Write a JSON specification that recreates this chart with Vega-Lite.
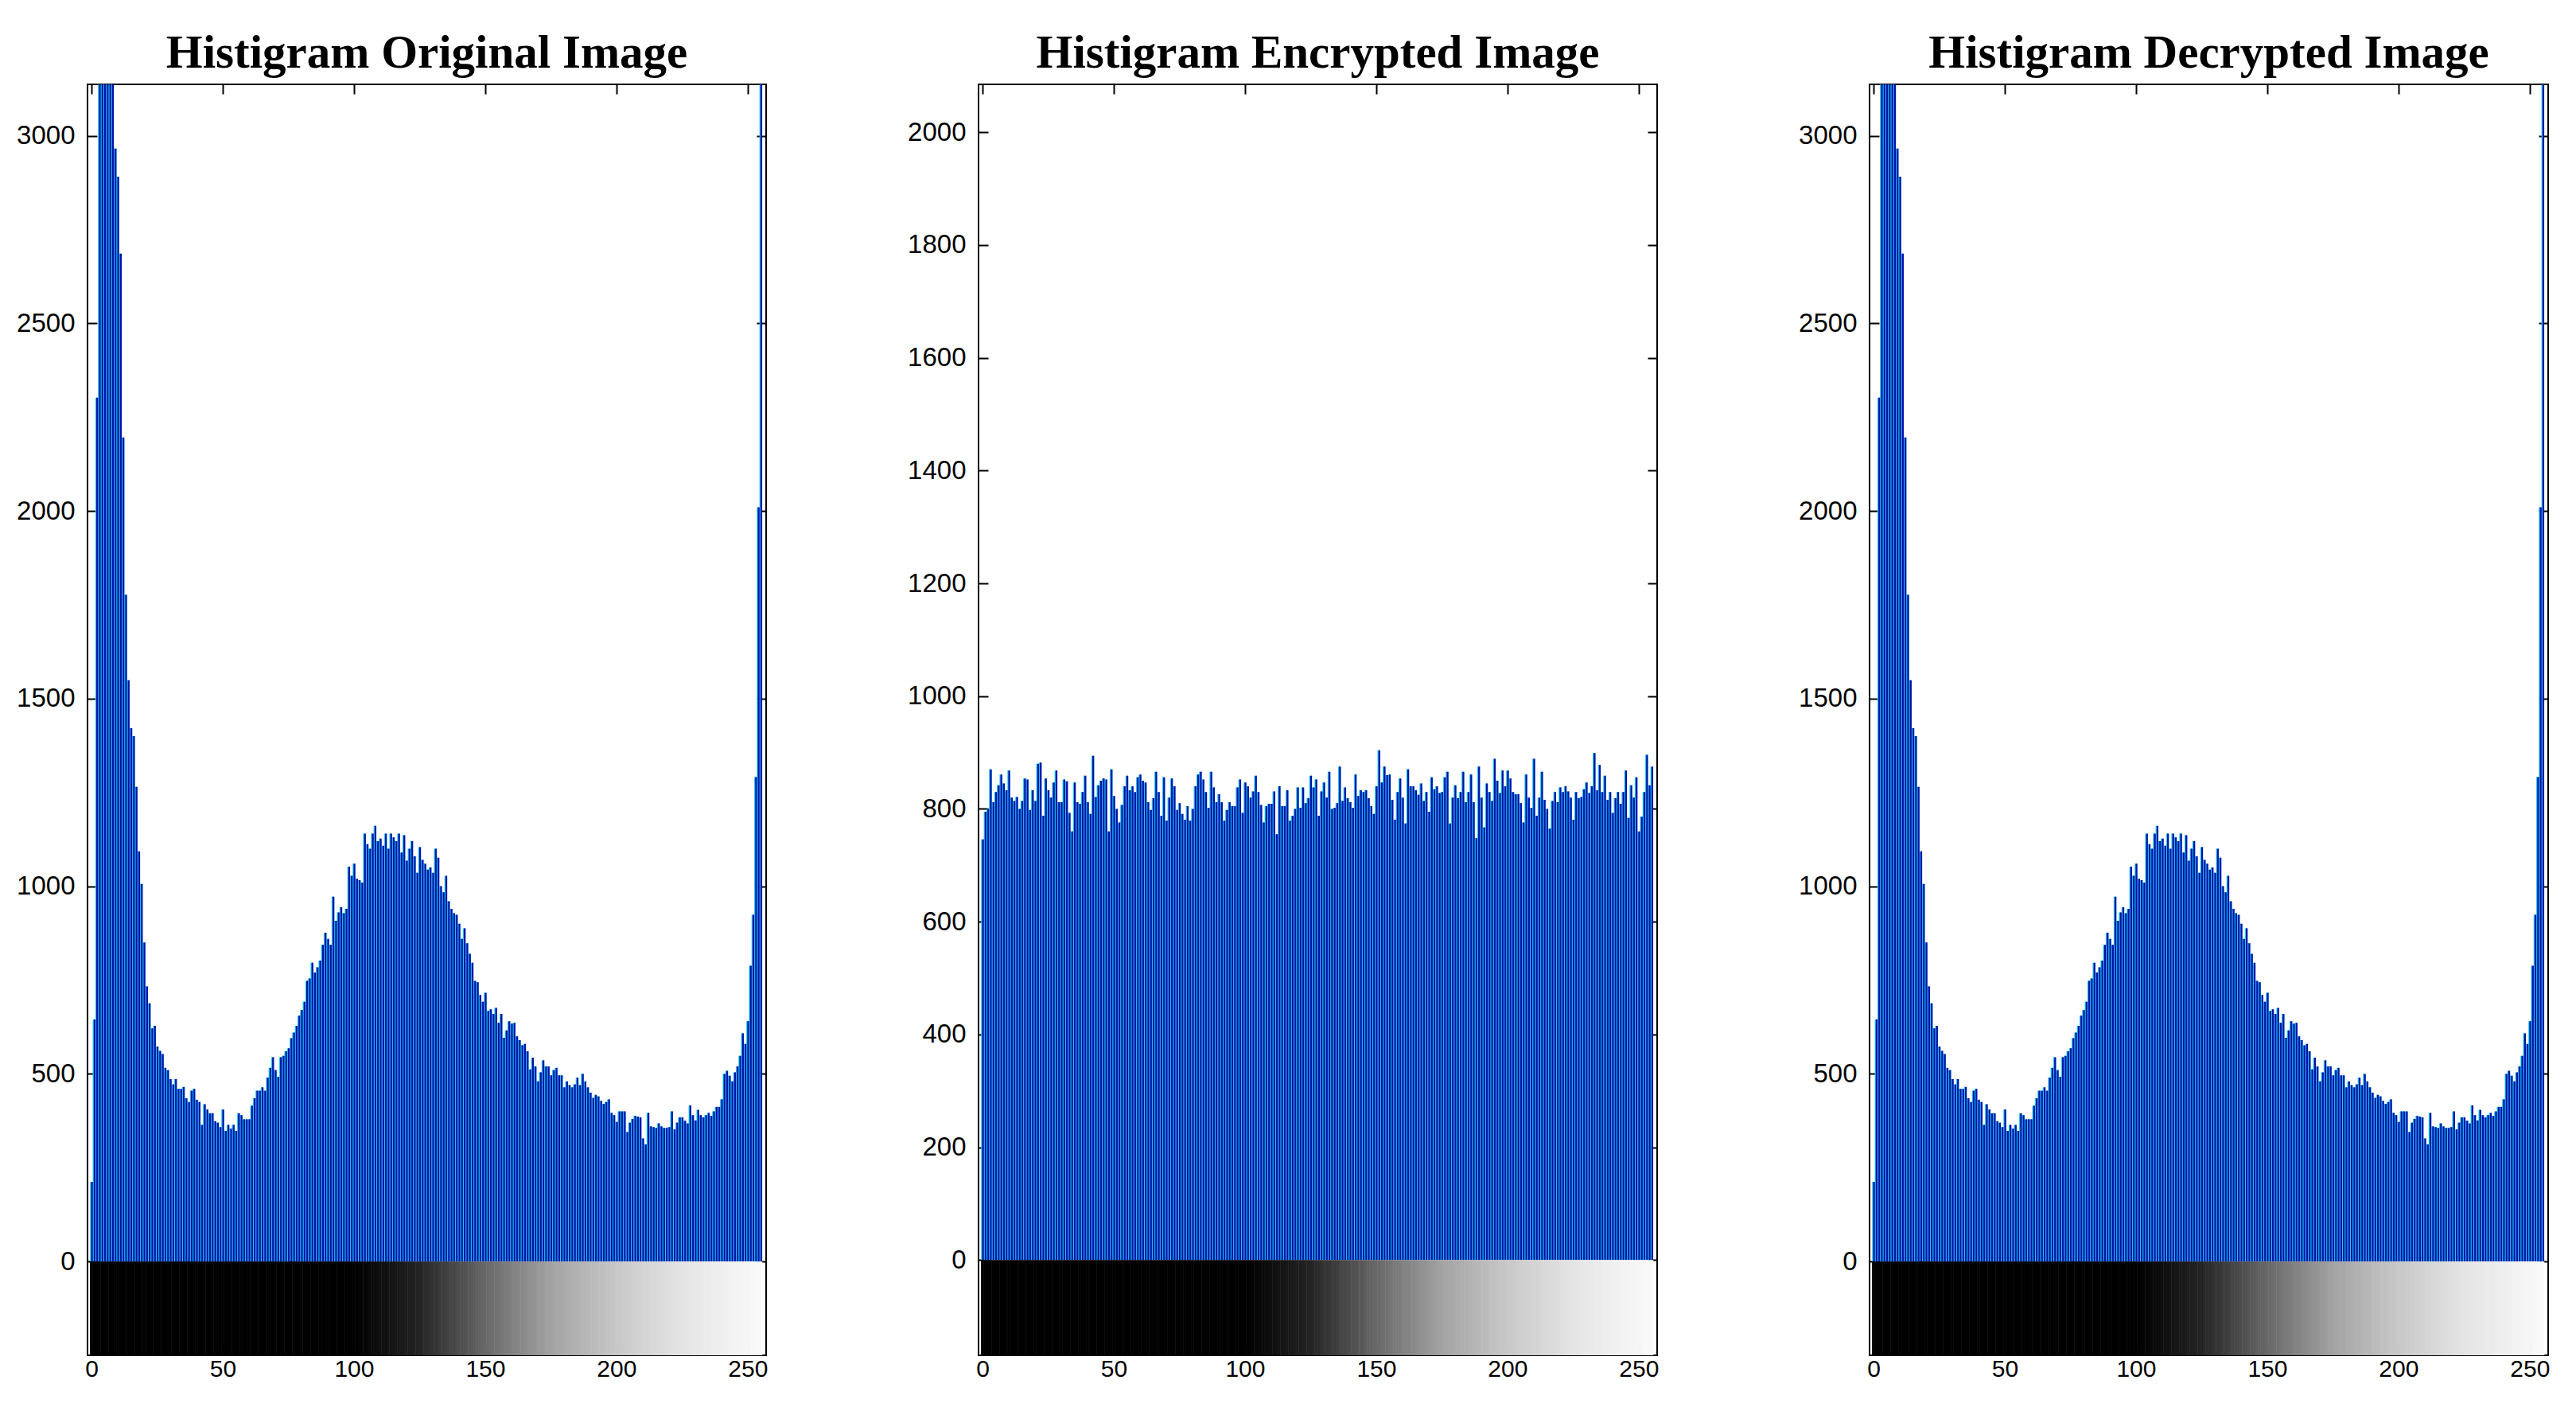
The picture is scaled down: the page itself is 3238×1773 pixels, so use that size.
{
"$schema": "https://vega.github.io/schema/vega-lite/v6.json",
"background": "white",
"padding": {"left": 19, "top": 37, "right": 10, "bottom": 10},
"bounds": "flush",
"spacing": 267,
"config": {
  "view": {"stroke": "#000000", "strokeWidth": 2},
  "title": {"font": "Liberation Serif", "fontWeight": "bold", "fontSize": 59, "color": "#000000", "offset": 8, "anchor": "middle"},
  "axis": {"labelFont": "Liberation Sans", "labelColor": "#000000", "tickColor": "#000000", "tickWidth": 2, "domain": false, "grid": false, "title": null, "format": "d", "zindex": 1}
},
"resolve": {"scale": {"x": "independent", "y": "independent", "color": "independent"}},
"datasets": {
"original": [
{"bin":0,"count":212},{"bin":1,"count":645},{"bin":2,"count":2302},{"bin":3,"count":3600},{"bin":4,"count":3700},{"bin":5,"count":3700},{"bin":6,"count":3600},{"bin":7,"count":3500},{"bin":8,"count":3300},{"bin":9,"count":2966},
{"bin":10,"count":2891},{"bin":11,"count":2686},{"bin":12,"count":2196},{"bin":13,"count":1777},{"bin":14,"count":1549},{"bin":15,"count":1421},{"bin":16,"count":1400},{"bin":17,"count":1265},{"bin":18,"count":1093},{"bin":19,"count":1006},
{"bin":20,"count":850},{"bin":21,"count":733},{"bin":22,"count":688},{"bin":23,"count":621},{"bin":24,"count":628},{"bin":25,"count":573},{"bin":26,"count":561},{"bin":27,"count":553},{"bin":28,"count":516},{"bin":29,"count":510},
{"bin":30,"count":486},{"bin":31,"count":472},{"bin":32,"count":486},{"bin":33,"count":460},{"bin":34,"count":460},{"bin":35,"count":465},{"bin":36,"count":435},{"bin":37,"count":425},{"bin":38,"count":455},{"bin":39,"count":460},
{"bin":40,"count":431},{"bin":41,"count":425},{"bin":42,"count":364},{"bin":43,"count":419},{"bin":44,"count":405},{"bin":45,"count":395},{"bin":46,"count":395},{"bin":47,"count":374},{"bin":48,"count":370},{"bin":49,"count":358},
{"bin":50,"count":405},{"bin":51,"count":348},{"bin":52,"count":364},{"bin":53,"count":354},{"bin":54,"count":364},{"bin":55,"count":348},{"bin":56,"count":395},{"bin":57,"count":390},{"bin":58,"count":379},{"bin":59,"count":379},
{"bin":60,"count":379},{"bin":61,"count":415},{"bin":62,"count":435},{"bin":63,"count":455},{"bin":64,"count":455},{"bin":65,"count":464},{"bin":66,"count":455},{"bin":67,"count":490},{"bin":68,"count":516},{"bin":69,"count":544},
{"bin":70,"count":510},{"bin":71,"count":492},{"bin":72,"count":544},{"bin":73,"count":548},{"bin":74,"count":560},{"bin":75,"count":568},{"bin":76,"count":595},{"bin":77,"count":610},{"bin":78,"count":628},{"bin":79,"count":655},
{"bin":80,"count":670},{"bin":81,"count":692},{"bin":82,"count":748},{"bin":83,"count":754},{"bin":84,"count":796},{"bin":85,"count":770},{"bin":86,"count":784},{"bin":87,"count":802},{"bin":88,"count":844},{"bin":89,"count":876},
{"bin":90,"count":860},{"bin":91,"count":844},{"bin":92,"count":972},{"bin":93,"count":908},{"bin":94,"count":930},{"bin":95,"count":944},{"bin":96,"count":928},{"bin":97,"count":940},{"bin":98,"count":1052},{"bin":99,"count":1028},
{"bin":100,"count":1060},{"bin":101,"count":1020},{"bin":102,"count":1016},{"bin":103,"count":1010},{"bin":104,"count":1140},{"bin":105,"count":1112},{"bin":106,"count":1100},{"bin":107,"count":1140},{"bin":108,"count":1161},{"bin":109,"count":1120},
{"bin":110,"count":1127},{"bin":111,"count":1108},{"bin":112,"count":1140},{"bin":113,"count":1100},{"bin":114,"count":1140},{"bin":115,"count":1130},{"bin":116,"count":1120},{"bin":117,"count":1140},{"bin":118,"count":1090},{"bin":119,"count":1136},
{"bin":120,"count":1068},{"bin":121,"count":1100},{"bin":122,"count":1120},{"bin":123,"count":1080},{"bin":124,"count":1036},{"bin":125,"count":1104},{"bin":126,"count":1070},{"bin":127,"count":1060},{"bin":128,"count":1044},{"bin":129,"count":1050},
{"bin":130,"count":1036},{"bin":131,"count":1100},{"bin":132,"count":1076},{"bin":133,"count":1000},{"bin":134,"count":984},{"bin":135,"count":1028},{"bin":136,"count":960},{"bin":137,"count":940},{"bin":138,"count":928},{"bin":139,"count":924},
{"bin":140,"count":900},{"bin":141,"count":860},{"bin":142,"count":888},{"bin":143,"count":848},{"bin":144,"count":820},{"bin":145,"count":796},{"bin":146,"count":748},{"bin":147,"count":744},{"bin":148,"count":710},{"bin":149,"count":692},
{"bin":150,"count":716},{"bin":151,"count":668},{"bin":152,"count":672},{"bin":153,"count":660},{"bin":154,"count":676},{"bin":155,"count":636},{"bin":156,"count":660},{"bin":157,"count":596},{"bin":158,"count":616},{"bin":159,"count":640},
{"bin":160,"count":634},{"bin":161,"count":636},{"bin":162,"count":600},{"bin":163,"count":590},{"bin":164,"count":576},{"bin":165,"count":580},{"bin":166,"count":560},{"bin":167,"count":512},{"bin":168,"count":543},{"bin":169,"count":520},
{"bin":170,"count":480},{"bin":171,"count":504},{"bin":172,"count":536},{"bin":173,"count":520},{"bin":174,"count":520},{"bin":175,"count":496},{"bin":176,"count":510},{"bin":177,"count":516},{"bin":178,"count":496},{"bin":179,"count":496},
{"bin":180,"count":464},{"bin":181,"count":480},{"bin":182,"count":470},{"bin":183,"count":464},{"bin":184,"count":472},{"bin":185,"count":490},{"bin":186,"count":470},{"bin":187,"count":500},{"bin":188,"count":480},{"bin":189,"count":464},
{"bin":190,"count":450},{"bin":191,"count":436},{"bin":192,"count":444},{"bin":193,"count":440},{"bin":194,"count":428},{"bin":195,"count":420},{"bin":196,"count":425},{"bin":197,"count":432},{"bin":198,"count":396},{"bin":199,"count":390},
{"bin":200,"count":372},{"bin":201,"count":400},{"bin":202,"count":400},{"bin":203,"count":400},{"bin":204,"count":345},{"bin":205,"count":370},{"bin":206,"count":380},{"bin":207,"count":388},{"bin":208,"count":386},{"bin":209,"count":384},
{"bin":210,"count":328},{"bin":211,"count":312},{"bin":212,"count":396},{"bin":213,"count":360},{"bin":214,"count":358},{"bin":215,"count":356},{"bin":216,"count":368},{"bin":217,"count":360},{"bin":218,"count":356},{"bin":219,"count":356},
{"bin":220,"count":358},{"bin":221,"count":400},{"bin":222,"count":352},{"bin":223,"count":370},{"bin":224,"count":384},{"bin":225,"count":384},{"bin":226,"count":375},{"bin":227,"count":368},{"bin":228,"count":416},{"bin":229,"count":390},
{"bin":230,"count":376},{"bin":231,"count":404},{"bin":232,"count":390},{"bin":233,"count":384},{"bin":234,"count":390},{"bin":235,"count":396},{"bin":236,"count":388},{"bin":237,"count":400},{"bin":238,"count":412},{"bin":239,"count":412},
{"bin":240,"count":432},{"bin":241,"count":500},{"bin":242,"count":508},{"bin":243,"count":495},{"bin":244,"count":480},{"bin":245,"count":504},{"bin":246,"count":520},{"bin":247,"count":548},{"bin":248,"count":608},{"bin":249,"count":580},
{"bin":250,"count":640},{"bin":251,"count":788},{"bin":252,"count":924},{"bin":253,"count":1291},{"bin":254,"count":2010},{"bin":255,"count":3600}
],
"encrypted": [
{"bin":0,"count":746},{"bin":1,"count":795},{"bin":2,"count":800},{"bin":3,"count":870},{"bin":4,"count":812},{"bin":5,"count":830},{"bin":6,"count":842},{"bin":7,"count":861},{"bin":8,"count":845},{"bin":9,"count":833},
{"bin":10,"count":868},{"bin":11,"count":820},{"bin":12,"count":814},{"bin":13,"count":821},{"bin":14,"count":800},{"bin":15,"count":814},{"bin":16,"count":854},{"bin":17,"count":852},{"bin":18,"count":798},{"bin":19,"count":833},
{"bin":20,"count":814},{"bin":21,"count":880},{"bin":22,"count":882},{"bin":23,"count":788},{"bin":24,"count":854},{"bin":25,"count":833},{"bin":26,"count":820},{"bin":27,"count":847},{"bin":28,"count":868},{"bin":29,"count":812},
{"bin":30,"count":812},{"bin":31,"count":852},{"bin":32,"count":849},{"bin":33,"count":793},{"bin":34,"count":760},{"bin":35,"count":847},{"bin":36,"count":812},{"bin":37,"count":809},{"bin":38,"count":830},{"bin":39,"count":859},
{"bin":40,"count":812},{"bin":41,"count":791},{"bin":42,"count":894},{"bin":43,"count":821},{"bin":44,"count":842},{"bin":45,"count":850},{"bin":46,"count":854},{"bin":47,"count":852},{"bin":48,"count":760},{"bin":49,"count":870},
{"bin":50,"count":823},{"bin":51,"count":800},{"bin":52,"count":776},{"bin":53,"count":807},{"bin":54,"count":840},{"bin":55,"count":859},{"bin":56,"count":833},{"bin":57,"count":840},{"bin":58,"count":830},{"bin":59,"count":856},
{"bin":60,"count":861},{"bin":61,"count":850},{"bin":62,"count":847},{"bin":63,"count":812},{"bin":64,"count":798},{"bin":65,"count":819},{"bin":66,"count":866},{"bin":67,"count":830},{"bin":68,"count":788},{"bin":69,"count":856},
{"bin":70,"count":779},{"bin":71,"count":820},{"bin":72,"count":854},{"bin":73,"count":840},{"bin":74,"count":798},{"bin":75,"count":810},{"bin":76,"count":791},{"bin":77,"count":781},{"bin":78,"count":805},{"bin":79,"count":779},
{"bin":80,"count":800},{"bin":81,"count":840},{"bin":82,"count":861},{"bin":83,"count":866},{"bin":84,"count":852},{"bin":85,"count":830},{"bin":86,"count":802},{"bin":87,"count":866},{"bin":88,"count":838},{"bin":89,"count":812},
{"bin":90,"count":826},{"bin":91,"count":812},{"bin":92,"count":779},{"bin":93,"count":798},{"bin":94,"count":812},{"bin":95,"count":805},{"bin":96,"count":805},{"bin":97,"count":838},{"bin":98,"count":852},{"bin":99,"count":793},
{"bin":100,"count":847},{"bin":101,"count":840},{"bin":102,"count":820},{"bin":103,"count":831},{"bin":104,"count":859},{"bin":105,"count":830},{"bin":106,"count":807},{"bin":107,"count":776},{"bin":108,"count":805},{"bin":109,"count":809},
{"bin":110,"count":809},{"bin":111,"count":831},{"bin":112,"count":755},{"bin":113,"count":840},{"bin":114,"count":805},{"bin":115,"count":805},{"bin":116,"count":833},{"bin":117,"count":779},{"bin":118,"count":788},{"bin":119,"count":800},
{"bin":120,"count":838},{"bin":121,"count":802},{"bin":122,"count":838},{"bin":123,"count":810},{"bin":124,"count":819},{"bin":125,"count":859},{"bin":126,"count":838},{"bin":127,"count":852},{"bin":128,"count":788},{"bin":129,"count":831},
{"bin":130,"count":847},{"bin":131,"count":820},{"bin":132,"count":866},{"bin":133,"count":800},{"bin":134,"count":802},{"bin":135,"count":810},{"bin":136,"count":875},{"bin":137,"count":814},{"bin":138,"count":838},{"bin":139,"count":819},
{"bin":140,"count":812},{"bin":141,"count":802},{"bin":142,"count":861},{"bin":143,"count":823},{"bin":144,"count":833},{"bin":145,"count":830},{"bin":146,"count":833},{"bin":147,"count":819},{"bin":148,"count":805},{"bin":149,"count":791},
{"bin":150,"count":840},{"bin":151,"count":904},{"bin":152,"count":847},{"bin":153,"count":875},{"bin":154,"count":860},{"bin":155,"count":861},{"bin":156,"count":816},{"bin":157,"count":781},{"bin":158,"count":830},{"bin":159,"count":854},
{"bin":160,"count":820},{"bin":161,"count":774},{"bin":162,"count":870},{"bin":163,"count":840},{"bin":164,"count":840},{"bin":165,"count":833},{"bin":166,"count":825},{"bin":167,"count":845},{"bin":168,"count":814},{"bin":169,"count":830},
{"bin":170,"count":795},{"bin":171,"count":856},{"bin":172,"count":835},{"bin":173,"count":840},{"bin":174,"count":828},{"bin":175,"count":830},{"bin":176,"count":856},{"bin":177,"count":866},{"bin":178,"count":774},{"bin":179,"count":820},
{"bin":180,"count":842},{"bin":181,"count":819},{"bin":182,"count":830},{"bin":183,"count":866},{"bin":184,"count":812},{"bin":185,"count":830},{"bin":186,"count":861},{"bin":187,"count":812},{"bin":188,"count":748},{"bin":189,"count":875},
{"bin":190,"count":820},{"bin":191,"count":767},{"bin":192,"count":845},{"bin":193,"count":830},{"bin":194,"count":814},{"bin":195,"count":889},{"bin":196,"count":850},{"bin":197,"count":828},{"bin":198,"count":868},{"bin":199,"count":840},
{"bin":200,"count":868},{"bin":201,"count":854},{"bin":202,"count":830},{"bin":203,"count":826},{"bin":204,"count":826},{"bin":205,"count":810},{"bin":206,"count":776},{"bin":207,"count":861},{"bin":208,"count":820},{"bin":209,"count":802},
{"bin":210,"count":889},{"bin":211,"count":788},{"bin":212,"count":820},{"bin":213,"count":866},{"bin":214,"count":816},{"bin":215,"count":800},{"bin":216,"count":765},{"bin":217,"count":814},{"bin":218,"count":830},{"bin":219,"count":812},
{"bin":220,"count":838},{"bin":221,"count":830},{"bin":222,"count":840},{"bin":223,"count":831},{"bin":224,"count":820},{"bin":225,"count":781},{"bin":226,"count":830},{"bin":227,"count":819},{"bin":228,"count":821},{"bin":229,"count":835},
{"bin":230,"count":847},{"bin":231,"count":828},{"bin":232,"count":840},{"bin":233,"count":899},{"bin":234,"count":833},{"bin":235,"count":878},{"bin":236,"count":830},{"bin":237,"count":859},{"bin":238,"count":816},{"bin":239,"count":830},
{"bin":240,"count":793},{"bin":241,"count":819},{"bin":242,"count":830},{"bin":243,"count":809},{"bin":244,"count":830},{"bin":245,"count":868},{"bin":246,"count":784},{"bin":247,"count":842},{"bin":248,"count":820},{"bin":249,"count":856},
{"bin":250,"count":760},{"bin":251,"count":786},{"bin":252,"count":830},{"bin":253,"count":896},{"bin":254,"count":842},{"bin":255,"count":875}
],
"decrypted": [
{"bin":0,"count":212},{"bin":1,"count":645},{"bin":2,"count":2302},{"bin":3,"count":3600},{"bin":4,"count":3700},{"bin":5,"count":3700},{"bin":6,"count":3600},{"bin":7,"count":3500},{"bin":8,"count":3300},{"bin":9,"count":2966},
{"bin":10,"count":2891},{"bin":11,"count":2686},{"bin":12,"count":2196},{"bin":13,"count":1777},{"bin":14,"count":1549},{"bin":15,"count":1421},{"bin":16,"count":1400},{"bin":17,"count":1265},{"bin":18,"count":1093},{"bin":19,"count":1006},
{"bin":20,"count":850},{"bin":21,"count":733},{"bin":22,"count":688},{"bin":23,"count":621},{"bin":24,"count":628},{"bin":25,"count":573},{"bin":26,"count":561},{"bin":27,"count":553},{"bin":28,"count":516},{"bin":29,"count":510},
{"bin":30,"count":486},{"bin":31,"count":472},{"bin":32,"count":486},{"bin":33,"count":460},{"bin":34,"count":460},{"bin":35,"count":465},{"bin":36,"count":435},{"bin":37,"count":425},{"bin":38,"count":455},{"bin":39,"count":460},
{"bin":40,"count":431},{"bin":41,"count":425},{"bin":42,"count":364},{"bin":43,"count":419},{"bin":44,"count":405},{"bin":45,"count":395},{"bin":46,"count":395},{"bin":47,"count":374},{"bin":48,"count":370},{"bin":49,"count":358},
{"bin":50,"count":405},{"bin":51,"count":348},{"bin":52,"count":364},{"bin":53,"count":354},{"bin":54,"count":364},{"bin":55,"count":348},{"bin":56,"count":395},{"bin":57,"count":390},{"bin":58,"count":379},{"bin":59,"count":379},
{"bin":60,"count":379},{"bin":61,"count":415},{"bin":62,"count":435},{"bin":63,"count":455},{"bin":64,"count":455},{"bin":65,"count":464},{"bin":66,"count":455},{"bin":67,"count":490},{"bin":68,"count":516},{"bin":69,"count":544},
{"bin":70,"count":510},{"bin":71,"count":492},{"bin":72,"count":544},{"bin":73,"count":548},{"bin":74,"count":560},{"bin":75,"count":568},{"bin":76,"count":595},{"bin":77,"count":610},{"bin":78,"count":628},{"bin":79,"count":655},
{"bin":80,"count":670},{"bin":81,"count":692},{"bin":82,"count":748},{"bin":83,"count":754},{"bin":84,"count":796},{"bin":85,"count":770},{"bin":86,"count":784},{"bin":87,"count":802},{"bin":88,"count":844},{"bin":89,"count":876},
{"bin":90,"count":860},{"bin":91,"count":844},{"bin":92,"count":972},{"bin":93,"count":908},{"bin":94,"count":930},{"bin":95,"count":944},{"bin":96,"count":928},{"bin":97,"count":940},{"bin":98,"count":1052},{"bin":99,"count":1028},
{"bin":100,"count":1060},{"bin":101,"count":1020},{"bin":102,"count":1016},{"bin":103,"count":1010},{"bin":104,"count":1140},{"bin":105,"count":1112},{"bin":106,"count":1100},{"bin":107,"count":1140},{"bin":108,"count":1161},{"bin":109,"count":1120},
{"bin":110,"count":1127},{"bin":111,"count":1108},{"bin":112,"count":1140},{"bin":113,"count":1100},{"bin":114,"count":1140},{"bin":115,"count":1130},{"bin":116,"count":1120},{"bin":117,"count":1140},{"bin":118,"count":1090},{"bin":119,"count":1136},
{"bin":120,"count":1068},{"bin":121,"count":1100},{"bin":122,"count":1120},{"bin":123,"count":1080},{"bin":124,"count":1036},{"bin":125,"count":1104},{"bin":126,"count":1070},{"bin":127,"count":1060},{"bin":128,"count":1044},{"bin":129,"count":1050},
{"bin":130,"count":1036},{"bin":131,"count":1100},{"bin":132,"count":1076},{"bin":133,"count":1000},{"bin":134,"count":984},{"bin":135,"count":1028},{"bin":136,"count":960},{"bin":137,"count":940},{"bin":138,"count":928},{"bin":139,"count":924},
{"bin":140,"count":900},{"bin":141,"count":860},{"bin":142,"count":888},{"bin":143,"count":848},{"bin":144,"count":820},{"bin":145,"count":796},{"bin":146,"count":748},{"bin":147,"count":744},{"bin":148,"count":710},{"bin":149,"count":692},
{"bin":150,"count":716},{"bin":151,"count":668},{"bin":152,"count":672},{"bin":153,"count":660},{"bin":154,"count":676},{"bin":155,"count":636},{"bin":156,"count":660},{"bin":157,"count":596},{"bin":158,"count":616},{"bin":159,"count":640},
{"bin":160,"count":634},{"bin":161,"count":636},{"bin":162,"count":600},{"bin":163,"count":590},{"bin":164,"count":576},{"bin":165,"count":580},{"bin":166,"count":560},{"bin":167,"count":512},{"bin":168,"count":543},{"bin":169,"count":520},
{"bin":170,"count":480},{"bin":171,"count":504},{"bin":172,"count":536},{"bin":173,"count":520},{"bin":174,"count":520},{"bin":175,"count":496},{"bin":176,"count":510},{"bin":177,"count":516},{"bin":178,"count":496},{"bin":179,"count":496},
{"bin":180,"count":464},{"bin":181,"count":480},{"bin":182,"count":470},{"bin":183,"count":464},{"bin":184,"count":472},{"bin":185,"count":490},{"bin":186,"count":470},{"bin":187,"count":500},{"bin":188,"count":480},{"bin":189,"count":464},
{"bin":190,"count":450},{"bin":191,"count":436},{"bin":192,"count":444},{"bin":193,"count":440},{"bin":194,"count":428},{"bin":195,"count":420},{"bin":196,"count":425},{"bin":197,"count":432},{"bin":198,"count":396},{"bin":199,"count":390},
{"bin":200,"count":372},{"bin":201,"count":400},{"bin":202,"count":400},{"bin":203,"count":400},{"bin":204,"count":345},{"bin":205,"count":370},{"bin":206,"count":380},{"bin":207,"count":388},{"bin":208,"count":386},{"bin":209,"count":384},
{"bin":210,"count":328},{"bin":211,"count":312},{"bin":212,"count":396},{"bin":213,"count":360},{"bin":214,"count":358},{"bin":215,"count":356},{"bin":216,"count":368},{"bin":217,"count":360},{"bin":218,"count":356},{"bin":219,"count":356},
{"bin":220,"count":358},{"bin":221,"count":400},{"bin":222,"count":352},{"bin":223,"count":370},{"bin":224,"count":384},{"bin":225,"count":384},{"bin":226,"count":375},{"bin":227,"count":368},{"bin":228,"count":416},{"bin":229,"count":390},
{"bin":230,"count":376},{"bin":231,"count":404},{"bin":232,"count":390},{"bin":233,"count":384},{"bin":234,"count":390},{"bin":235,"count":396},{"bin":236,"count":388},{"bin":237,"count":400},{"bin":238,"count":412},{"bin":239,"count":412},
{"bin":240,"count":432},{"bin":241,"count":500},{"bin":242,"count":508},{"bin":243,"count":495},{"bin":244,"count":480},{"bin":245,"count":504},{"bin":246,"count":520},{"bin":247,"count":548},{"bin":248,"count":608},{"bin":249,"count":580},
{"bin":250,"count":640},{"bin":251,"count":788},{"bin":252,"count":924},{"bin":253,"count":1291},{"bin":254,"count":2010},{"bin":255,"count":3600}
]
},
"hconcat": [
{
  "width": 853, "height": 1597,
  "title": "Histigram Original Image",
  "data": {"name": "original"},
  "resolve": {"axis": {"x": "independent", "y": "independent"}},
  "layer": [
    {"mark": {"type": "bar", "size": 3.4, "color": "#1ec8ea", "clip": true},
     "encoding": {
       "x": {"field": "bin", "type": "quantitative", "scale": {"domain": [0, 255.5], "nice": false, "zero": false},
             "axis": {"orient": "bottom", "values": [0,50,100,150,200,250], "tickSize": -12, "labelPadding": 14, "labelFontSize": 30}},
       "y": {"field": "count", "type": "quantitative", "scale": {"domain": [-250, 3137], "nice": false, "zero": false},
             "axis": {"orient": "left", "values": [0,500,1000,1500,2000,2500,3000], "tickSize": -12, "labelPadding": 28, "labelFontSize": 33}},
       "y2": {"datum": 0}}},
    {"mark": {"type": "bar", "size": 2.2, "xOffset": 0.6, "color": "#0010a8", "clip": true},
     "encoding": {
       "x": {"field": "bin", "type": "quantitative", "axis": null},
       "y": {"field": "count", "type": "quantitative", "axis": null},
       "y2": {"datum": 0}}},
    {"mark": {"type": "bar", "size": 3.8},
     "encoding": {
       "x": {"field": "bin", "type": "quantitative",
             "axis": {"orient": "top", "values": [0,50,100,150,200,250], "tickSize": -12, "labels": false}},
       "y": {"datum": -250, "type": "quantitative",
             "axis": {"orient": "right", "values": [0,500,1000,1500,2000,2500,3000], "tickSize": -12, "labels": false}},
       "y2": {"datum": 0},
       "color": {"field": "bin", "type": "quantitative", "legend": null,
                 "scale": {"type": "linear", "domain": [0, 100, 125, 150, 175, 200, 225, 255], "range": ["#000000", "#000000", "#242424", "#686868", "#a2a2a2", "#c8c8c8", "#e4e4e4", "#fafafa"], "interpolate": "rgb"}}}}
  ]
},
{
  "width": 853, "height": 1597,
  "title": "Histigram Encrypted Image",
  "data": {"name": "encrypted"},
  "resolve": {"axis": {"x": "independent", "y": "independent"}},
  "layer": [
    {"mark": {"type": "bar", "size": 3.4, "color": "#1ec8ea", "clip": true},
     "encoding": {
       "x": {"field": "bin", "type": "quantitative", "scale": {"domain": [0, 255.5], "nice": false, "zero": false},
             "axis": {"orient": "bottom", "values": [0,50,100,150,200,250], "tickSize": -12, "labelPadding": 14, "labelFontSize": 30}},
       "y": {"field": "count", "type": "quantitative", "scale": {"domain": [-169, 2085], "nice": false, "zero": false},
             "axis": {"orient": "left", "values": [0,200,400,600,800,1000,1200,1400,1600,1800,2000], "tickSize": -12, "labelPadding": 28, "labelFontSize": 33}},
       "y2": {"datum": 0}}},
    {"mark": {"type": "bar", "size": 2.2, "xOffset": 0.6, "color": "#0010a8", "clip": true},
     "encoding": {
       "x": {"field": "bin", "type": "quantitative", "axis": null},
       "y": {"field": "count", "type": "quantitative", "axis": null},
       "y2": {"datum": 0}}},
    {"mark": {"type": "bar", "size": 3.8},
     "encoding": {
       "x": {"field": "bin", "type": "quantitative",
             "axis": {"orient": "top", "values": [0,50,100,150,200,250], "tickSize": -12, "labels": false}},
       "y": {"datum": -169, "type": "quantitative",
             "axis": {"orient": "right", "values": [0,200,400,600,800,1000,1200,1400,1600,1800,2000], "tickSize": -12, "labels": false}},
       "y2": {"datum": 0},
       "color": {"field": "bin", "type": "quantitative", "legend": null,
                 "scale": {"type": "linear", "domain": [0, 100, 125, 150, 175, 200, 225, 255], "range": ["#000000", "#000000", "#242424", "#686868", "#a2a2a2", "#c8c8c8", "#e4e4e4", "#fafafa"], "interpolate": "rgb"}}}}
  ]
},
{
  "width": 853, "height": 1597,
  "title": "Histigram Decrypted Image",
  "data": {"name": "decrypted"},
  "resolve": {"axis": {"x": "independent", "y": "independent"}},
  "layer": [
    {"mark": {"type": "bar", "size": 3.4, "color": "#1ec8ea", "clip": true},
     "encoding": {
       "x": {"field": "bin", "type": "quantitative", "scale": {"domain": [0, 255.5], "nice": false, "zero": false},
             "axis": {"orient": "bottom", "values": [0,50,100,150,200,250], "tickSize": -12, "labelPadding": 14, "labelFontSize": 30}},
       "y": {"field": "count", "type": "quantitative", "scale": {"domain": [-250, 3137], "nice": false, "zero": false},
             "axis": {"orient": "left", "values": [0,500,1000,1500,2000,2500,3000], "tickSize": -12, "labelPadding": 28, "labelFontSize": 33}},
       "y2": {"datum": 0}}},
    {"mark": {"type": "bar", "size": 2.2, "xOffset": 0.6, "color": "#0010a8", "clip": true},
     "encoding": {
       "x": {"field": "bin", "type": "quantitative", "axis": null},
       "y": {"field": "count", "type": "quantitative", "axis": null},
       "y2": {"datum": 0}}},
    {"mark": {"type": "bar", "size": 3.8},
     "encoding": {
       "x": {"field": "bin", "type": "quantitative",
             "axis": {"orient": "top", "values": [0,50,100,150,200,250], "tickSize": -12, "labels": false}},
       "y": {"datum": -250, "type": "quantitative",
             "axis": {"orient": "right", "values": [0,500,1000,1500,2000,2500,3000], "tickSize": -12, "labels": false}},
       "y2": {"datum": 0},
       "color": {"field": "bin", "type": "quantitative", "legend": null,
                 "scale": {"type": "linear", "domain": [0, 100, 125, 150, 175, 200, 225, 255], "range": ["#000000", "#000000", "#242424", "#686868", "#a2a2a2", "#c8c8c8", "#e4e4e4", "#fafafa"], "interpolate": "rgb"}}}}
  ]
}
]
}
